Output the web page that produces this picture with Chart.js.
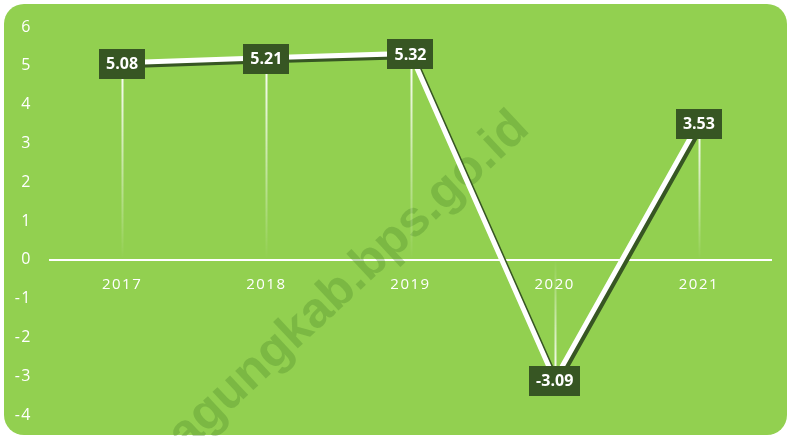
<!DOCTYPE html>
<html>
<head>
<meta charset="utf-8">
<script src="https://cdn.jsdelivr.net/npm/chart.js@4.4.1/dist/chart.umd.min.js"></script>
<style>
  html, body { margin: 0; padding: 0; background: #fff; }
  #wrap { position: relative; width: 789px; height: 436px; overflow: hidden; }
  #bg { position: absolute; left: 4px; top: 4px; width: 783px; height: 431px; background: #92d050; border-radius: 20px; }
  canvas { position: absolute; left: 0; top: 0; }
</style>
</head>
<body>
<div id="wrap">
  <div id="bg"></div>
  <canvas id="growthChart" width="789" height="436"></canvas>
</div>
<script>
const years = ["2017", "2018", "2019", "2020", "2021"];
const growth = [5.08, 5.21, 5.32, -3.09, 3.53];
const yMin = -4;
const yMax = 6;

const darkGreen = "#375623";
const font = "'Open Sans', sans-serif";

// watermark, drop lines, line shadow and value boxes
const decorPlugin = {
  id: "decor",
  beforeDraw(chart) {
    chart.ctx.letterSpacing = "1.5px";
  },
  beforeDatasetsDraw(chart) {
    const ctx = chart.ctx;
    ctx.letterSpacing = "0px";

    ctx.save();
    ctx.translate(531, 131);
    ctx.rotate(-43 * Math.PI / 180);
    ctx.font = "bold 50px 'Liberation Sans', Arial, sans-serif";
    ctx.fillStyle = "rgba(70, 130, 40, 0.3)";
    ctx.textAlign = "right";
    ctx.textBaseline = "alphabetic";
    ctx.fillText("tulungagungkab.bps.go.id", 0, 0);
    ctx.restore();

    const xs = chart.scales.x;
    const ys = chart.scales.y;
    const y0 = ys.getPixelForValue(0);
    ctx.save();
    growth.forEach((v, i) => {
      const px = Math.round(xs.getPixelForValue(i)) + 0.5;
      const py = ys.getPixelForValue(v);
      const g = ctx.createLinearGradient(0, py, 0, y0);
      g.addColorStop(0, "rgba(255,255,255,1)");
      g.addColorStop(1, "rgba(255,255,255,0)");
      ctx.strokeStyle = g;
      ctx.lineWidth = 2;
      ctx.beginPath();
      ctx.moveTo(px, py);
      ctx.lineTo(px, y0);
      ctx.stroke();
    });
    ctx.restore();
  },
  beforeDatasetDraw(chart) {
    const ctx = chart.ctx;
    ctx.save();
    ctx.shadowColor = darkGreen;
    ctx.shadowOffsetX = 3;
    ctx.shadowOffsetY = 3;
    ctx.shadowBlur = 0;
  },
  afterDatasetDraw(chart) {
    chart.ctx.restore();
  },
  afterDatasetsDraw(chart) {
    const ctx = chart.ctx;
    const meta = chart.getDatasetMeta(0);
    ctx.save();
    ctx.letterSpacing = "0px";
    ctx.font = "bold 16px " + font;
    ctx.textAlign = "center";
    ctx.textBaseline = "middle";
    meta.data.forEach((pt, i) => {
      const txt = growth[i].toFixed(2);
      const w = ctx.measureText(txt).width + 14;
      const h = 30;
      ctx.fillStyle = darkGreen;
      ctx.fillRect(Math.round(pt.x - w / 2), Math.round(pt.y - h / 2 + 1), Math.round(w), h);
      ctx.fillStyle = "#fff";
      ctx.fillText(txt, pt.x, pt.y + 2);
    });
    ctx.restore();
  }
};

new Chart(document.getElementById("growthChart"), {
  type: "line",
  data: {
    labels: years,
    datasets: [
      {
        data: growth,
        borderColor: "#fff",
        borderWidth: 5,
        pointRadius: 0,
        tension: 0,
        fill: false,
        clip: false,
      },
    ],
  },
  options: {
    responsive: false,
    animation: false,
    layout: {
      padding: { top: 27, right: 18, bottom: 21, left: 0 },
    },
    scales: {
      x: {
        position: { y: 0 },
        offset: true,
        grid: { display: false, drawTicks: false },
        border: { color: "#fff", width: 2 },
        ticks: {
          color: "#fff",
          padding: 16,
          font: { family: font, size: 15 },
        },
        afterFit(scale) {
          scale.height = 0;
        },
      },
      y: {
        min: yMin,
        max: yMax,
        grid: { display: false, drawTicks: false },
        border: { display: false },
        ticks: {
          stepSize: 1,
          color: "#fff",
          padding: 18,
          font: { family: font, size: 16 },
        },
        afterFit(scale) {
          scale.width = 50;
          scale.paddingTop = 0;
          scale.paddingBottom = 0;
        },
      },
    },
    plugins: {
      legend: { display: false },
      tooltip: { enabled: false },
    },
  },
  plugins: [decorPlugin],
});
</script>
</body>
</html>
